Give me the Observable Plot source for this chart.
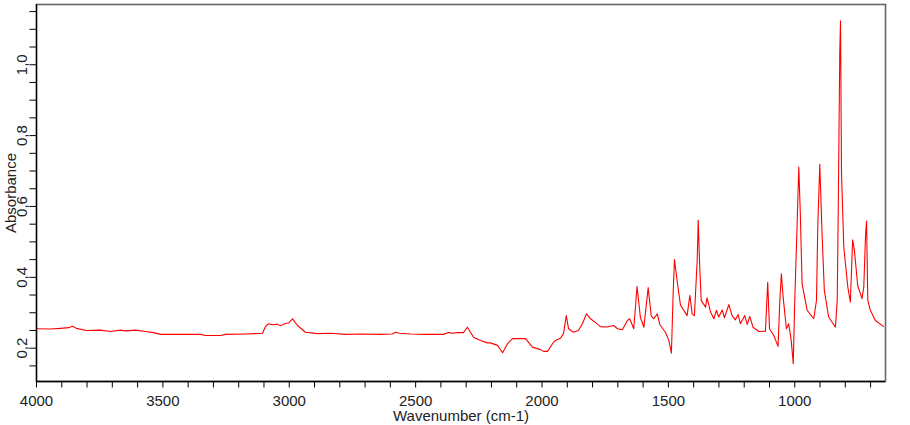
<!DOCTYPE html>
<html>
<head>
<meta charset="utf-8">
<script src="https://cdn.jsdelivr.net/npm/d3@7"></script>
<script src="https://cdn.jsdelivr.net/npm/@observablehq/plot@0.6"></script>
<style>
  html, body { margin: 0; padding: 0; background: #fff; }
  #chart svg { display: block; }
</style>
</head>
<body>
<div id="chart"></div>
<script>
// Wavenumber (cm-1) and absorbance
const wavenumber = [4000,3945,3905,3873,3858,3842,3802,3747,3707,3668,3648,3608,3569,3537,3509,3430,3351,3331,3272,3252,3173,3134,
  3106,3094,3082,3066,3047,3035,3015,3003,2987,2979,2967,2936,2888,2837,2778,2718,2639,2592,2580,2564,2520,2461,2390,2370,2354,2334,2311,2295,2271,
  2243,2216,2204,2176,2156,2137,2117,2065,2038,2006,1994,1978,1959,1947,1927,1915,1904,1895,1876,1856,1840,1824,1808,1789,1769,1741,1717,1701,1682,
  1662,1653,1637,1624,1611,1597,1580,1568,1558,1544,1534,1512,1498,1488,1481,1476,1463,1452,1426,1415,1406,1397,1386,1382,1376,1370,1353,1347,1333,
  1320,1310,1301,1287,1278,1261,1248,1235,1224,1215,1198,1188,1178,1165,1142,1116,1107,1100,1083,1066,1059,1053,1046,1033,1024,1014,1006,1000,991,
  984,978,971,951,925,914,909,901,892,883,866,839,832,828,822,819,815,806,790,780,771,764,751,734,727,720,716,711,701,681,648];
const absorbance = [0.255,0.254,0.256,0.258,0.262,0.256,0.250,0.251,0.247,0.251,0.249,0.251,0.247,0.244,0.239,0.239,0.239,0.236,0.236,0.239,0.240,0.241,
  0.242,0.261,0.269,0.266,0.268,0.263,0.270,0.271,0.283,0.275,0.264,0.245,0.241,0.242,0.239,0.240,0.239,0.240,0.245,0.242,0.240,0.239,0.239,0.244,0.242,0.244,0.244,0.259,0.231,
  0.222,0.215,0.215,0.208,0.187,0.212,0.227,0.227,0.203,0.196,0.191,0.191,0.212,0.222,0.228,0.241,0.292,0.255,0.245,0.250,0.269,0.297,0.283,0.273,0.261,0.260,0.264,0.255,0.252,
  0.278,0.283,0.255,0.374,0.288,0.259,0.371,0.292,0.283,0.297,0.267,0.245,0.222,0.186,0.358,0.450,0.377,0.321,0.292,0.349,0.297,0.292,0.448,0.561,0.429,0.335,0.316,0.342,0.302,
  0.283,0.307,0.288,0.308,0.286,0.323,0.292,0.280,0.295,0.269,0.292,0.267,0.290,0.259,0.247,0.248,0.386,0.255,0.236,0.205,0.335,0.410,0.344,0.255,0.269,0.222,0.156,0.335,0.542,
  0.711,0.580,0.382,0.307,0.283,0.335,0.542,0.719,0.523,0.363,0.288,0.259,0.335,0.589,1.032,1.124,0.693,0.485,0.372,0.330,0.506,0.476,0.377,0.340,0.372,0.518,0.559,0.335,0.307,0.278,0.261];

const xTicks = d3.range(4000, 699, -100);
const xLabels = [4000, 3500, 3000, 2500, 2000, 1500, 1000];
const yTicks = d3.range(0.15, 1.151, 0.05).map(v => +v.toFixed(2));
const yLabels = [0.2, 0.4, 0.6, 0.8, 1.0];
const xTitle = "Wavenumber (cm-1)";
const yTitle = "Absorbance";

const data = wavenumber.map((w, i) => ({w, a: absorbance[i]}));
const fmtComma = v => v.toFixed(1).replace(".", ",");

const chart = Plot.plot({
  width: 910,
  height: 425,
  marginLeft: 36,
  marginRight: 25,
  marginTop: 4,
  marginBottom: 44,
  style: {fontFamily: "'Liberation Sans', Arial, sans-serif", fontSize: "15px", color: "#222", background: "#fff"},
  x: {domain: [4000, 641]},
  y: {domain: [0.106, 1.17]},
  marks: [
    Plot.frame({stroke: "#666", strokeWidth: 1.6}),
    Plot.line(data, {x: "w", y: "a", stroke: "#ff0000", strokeWidth: 1.1, clip: true}),
    Plot.axisX({ticks: xTicks, tickSize: 6.5, tickPadding: 7, stroke: "#000",
      tickFormat: d => xLabels.includes(d) ? String(d) : "", label: null}),
    Plot.axisY({ticks: yTicks, tickSize: 6.5, tickPadding: 3, tickRotate: -90, stroke: "#000",
      tickFormat: d => yLabels.some(v => Math.abs(v - d) < 1e-6) ? fmtComma(d) : "", label: null}),
    Plot.ruleX([4000], {stroke: "#000", strokeWidth: 1.3}),
    Plot.ruleY([0.106], {stroke: "#000", strokeWidth: 1.3}),
    Plot.text([xTitle], {frameAnchor: "bottom", dy: 39.5, lineAnchor: "bottom", fill: "#222"}),
    Plot.text([yTitle], {frameAnchor: "left", dx: -21, rotate: -90, lineAnchor: "bottom", textAnchor: "middle", fill: "#222"})
  ]
});
document.getElementById("chart").appendChild(chart);
</script>
</body>
</html>
